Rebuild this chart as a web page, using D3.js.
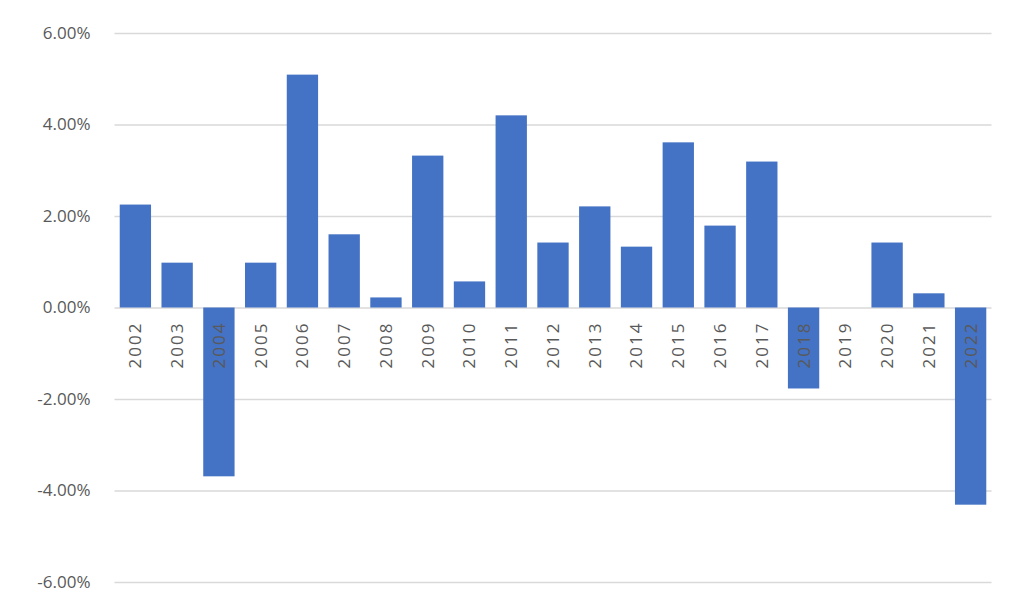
<!DOCTYPE html>
<html><head><meta charset="utf-8">
<script src="https://cdn.jsdelivr.net/npm/d3@7"></script>
<style>body{margin:0;background:#fff;}svg{display:block;}</style>
</head><body>
<script>
const categories = ["2002","2003","2004","2005","2006","2007","2008","2009","2010","2011","2012","2013","2014","2015","2016","2017","2018","2019","2020","2021","2022"];
const values = [2.25,0.98,-3.69,0.98,5.09,1.6,0.22,3.32,0.57,4.2,1.42,2.21,1.33,3.61,1.79,3.19,-1.77,0,1.42,0.31,-4.31];
const yTicks = [-6,-4,-2,0,2,4,6];

const W=1022,H=613;
const svg=d3.select("body").append("svg").attr("width",W).attr("height",H);
const x=d3.scaleBand().domain(categories).range([114.5,991.5]).paddingInner(0.25).paddingOuter(0.125);
const y=d3.scaleLinear().domain([-6,6]).range([582,33]);
const font="'Open Sans', 'Noto Sans', sans-serif";

const yAxis=d3.axisLeft(y).tickValues(yTicks).tickSize(-(991.5-114.5)).tickPadding(24).tickFormat(d=>d.toFixed(2)+"%");
const gy=svg.append("g").attr("transform","translate(114.5,0)").call(yAxis);
gy.select(".domain").remove();
gy.selectAll(".tick line").attr("stroke","#d9d9d9").attr("stroke-width",1.3);
gy.selectAll(".tick text").attr("fill","#595959").style("font-family",font).style("font-size","17px");

svg.append("g").selectAll("rect").data(values).join("rect")
  .attr("x",(d,i)=>x(categories[i]))
  .attr("width",x.bandwidth())
  .attr("y",d=>y(Math.max(0,d)))
  .attr("height",d=>Math.abs(y(d)-y(0)))
  .attr("fill","#4472c4");

const xAxis=d3.axisBottom(x).tickSize(0).tickPadding(0);
const gx=svg.append("g").attr("transform",`translate(0,${y(0)})`).call(xAxis);
gx.select(".domain").remove();
gx.selectAll(".tick text")
  .attr("fill","#595959").style("font-family",font).style("font-size","17px")
  .style("letter-spacing","2px")
  .attr("transform","rotate(-90)").attr("text-anchor","end")
  .attr("x",-14).attr("y",0).attr("dy","0.35em");
</script>
</body></html>
